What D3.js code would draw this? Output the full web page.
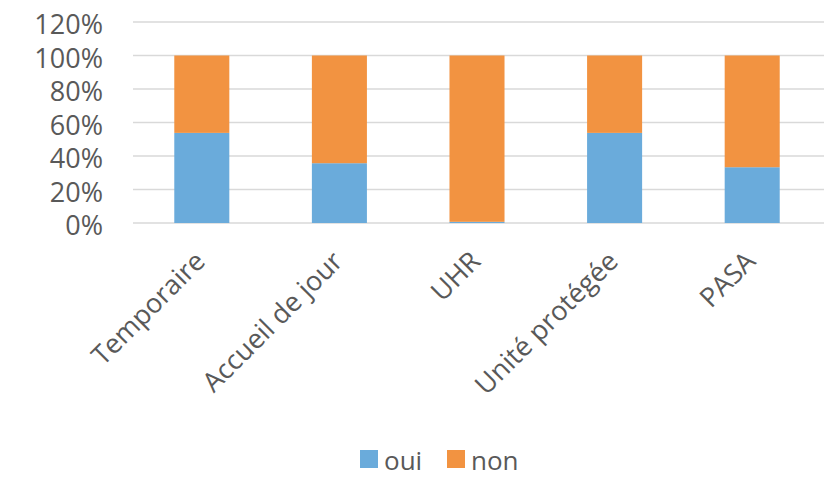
<!DOCTYPE html>
<html>
<head>
<meta charset="utf-8">
<script src="https://cdn.jsdelivr.net/npm/d3@7"></script>
<style>
  body { margin: 0; background: #fff; }
  svg { display: block; font-family: "Open Sans", "Liberation Sans", sans-serif; }
</style>
</head>
<body>
<div id="chart"></div>
<script>
const categories = ['Temporaire', 'Accueil de jour', 'UHR', 'Unité protégée', 'PASA'];
const oui = [0.538, 0.357, 0.007, 0.538, 0.333];
const non = [0.462, 0.643, 0.993, 0.462, 0.667];
const yTicks = [0, 0.2, 0.4, 0.6, 0.8, 1.0, 1.2];
const seriesNames = ['oui', 'non'];
const colors = ['#6aabdb', '#f29341'];

const width = 833;
const height = 484;
const margin = { top: 22, right: 12, bottom: 261, left: 133 };

const svg = d3.select('#chart')
  .append('svg')
  .attr('width', width)
  .attr('height', height);

const x = d3.scaleBand()
  .domain(categories)
  .range([margin.left, width - margin.right])
  .paddingInner(0.6)
  .paddingOuter(0.3);

const y = d3.scaleLinear()
  .domain([0, 1.2])
  .range([height - margin.bottom, margin.top]);

// gridlines
svg.append('g')
  .selectAll('line')
  .data(yTicks)
  .join('line')
    .attr('x1', margin.left)
    .attr('x2', 824)
    .attr('y1', d => y(d))
    .attr('y2', d => y(d))
    .attr('stroke', '#d9d9d9')
    .attr('stroke-width', 1.5);

// y labels
svg.append('g')
  .selectAll('text')
  .data(yTicks)
  .join('text')
    .attr('x', 103)
    .attr('y', d => y(d) + 3)
    .attr('dy', '0.35em')
    .attr('text-anchor', 'end')
    .attr('font-size', 27)
    .attr('fill', '#595959')
    .text(d => d3.format('.0%')(d));

const rows = categories.map((c, i) => ({ cat: c, oui: oui[i], non: non[i] }));
const stacked = d3.stack().keys(seriesNames)(rows);

svg.append('g')
  .selectAll('g')
  .data(stacked)
  .join('g')
    .attr('fill', (d, i) => colors[i])
  .selectAll('rect')
  .data(d => d)
  .join('rect')
    .attr('x', d => x(d.data.cat))
    .attr('y', d => y(d[1]))
    .attr('height', d => y(d[0]) - y(d[1]))
    .attr('width', x.bandwidth());

// x labels
svg.append('g')
  .selectAll('text')
  .data(categories)
  .join('text')
    .attr('transform', d => `translate(${x(d) + x.bandwidth() / 2 + 5},${y(0) + 40}) rotate(-45)`)
    .attr('text-anchor', 'end')
    .attr('font-size', 27)
    .attr('fill', '#595959')
    .text(d => d);

// legend
const legend = svg.append('g').attr('transform', 'translate(360,450)');
const items = [{ name: 'oui', dx: 0 }, { name: 'non', dx: 87 }];
items.forEach((it, i) => {
  legend.append('rect')
    .attr('x', it.dx)
    .attr('y', 0)
    .attr('width', 18)
    .attr('height', 18)
    .attr('fill', colors[i]);
  legend.append('text')
    .attr('x', it.dx + 24)
    .attr('y', 11)
    .attr('dy', '0.35em')
    .attr('font-size', 26)
    .attr('fill', '#595959')
    .text(it.name);
});
</script>
</body>
</html>
